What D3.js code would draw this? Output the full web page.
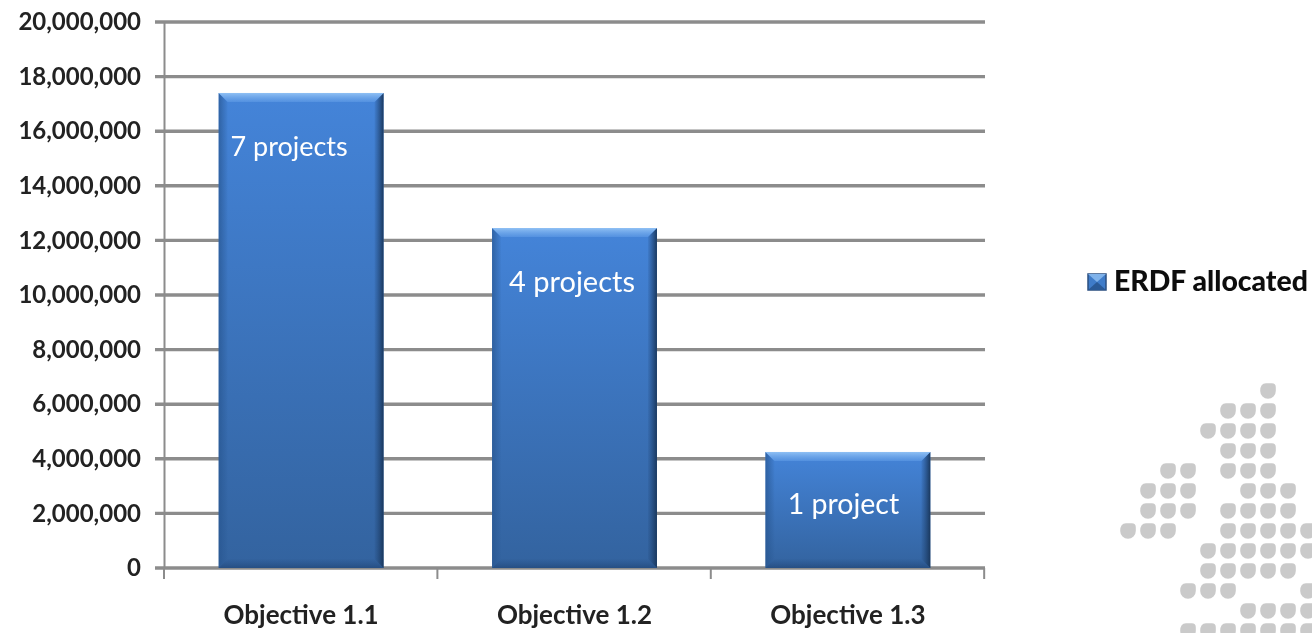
<!DOCTYPE html>
<html>
<head>
<meta charset="utf-8">
<script src="https://cdn.jsdelivr.net/npm/d3@7"></script>
<style>
  html, body { margin: 0; padding: 0; background: #fff; }
  svg { display: block; }
  text { font-family: Lato, sans-serif; }
</style>
</head>
<body>
<svg class="chart" width="1312" height="633"></svg>
<script>
// chart data
const categories = ['Objective 1.1', 'Objective 1.2', 'Objective 1.3'];
const erdfValues = [17400000, 12450000, 4250000];
const barLabels = ['7 projects', '4 projects', '1 project'];
const yTicks = d3.range(0, 20000001, 2000000);
const legendLabel = 'ERDF allocated';

// dotted map in the corner: each row lists its filled columns
const mapRows = [
  [7],
  [5, 6, 7],
  [4, 5, 6, 7],
  [5, 6, 7],
  [2, 3, 5, 6, 7],
  [1, 2, 3, 6, 7, 8],
  [1, 2, 3, 5, 6, 7, 8],
  [0, 1, 2, 5, 6, 7, 8, 9],
  [4, 5, 6, 7, 8, 9],
  [4, 5, 6, 7, 8],
  [3, 4, 5, 9],
  [6, 7, 8, 9],
  [3, 4, 5, 6, 7, 8, 9]
];

// the in-bar labels are not centred or equally sized in the original
const labelStyle = [
  { dx: -12, dy: 63, size: 27 },
  { dx: -2.5, dy: 64, size: 29 },
  { dx: -4.5, dy: 62, size: 28.5 }
];

const svg = d3.select('svg.chart');
const defs = svg.append('defs');

const soft = defs.append('filter').attr('id', 'soft');
soft.append('feGaussianBlur').attr('stdDeviation', 0.55);

function addGrad(id, dir, stops) {
  const g = defs.append('linearGradient')
    .attr('id', id)
    .attr('x1', 0).attr('y1', 0)
    .attr('x2', dir == 'h' ? 1 : 0)
    .attr('y2', dir == 'h' ? 0 : 1);
  stops.forEach(s => g.append('stop')
    .attr('offset', s[0])
    .attr('stop-color', s[1])
    .attr('stop-opacity', s[2]));
}
addGrad('barGrad', 'v', [['0%', '#4484d9', 1], ['100%', '#33639f', 1]]);
addGrad('topEdge', 'v', [['0%', '#8fc0f4', 1], ['100%', '#5f9be6', 0.6]]);
addGrad('rightEdge', 'h', [['0%', '#1f4270', 0.1], ['100%', '#183559', 0.95]]);
addGrad('bottomEdge', 'v', [['0%', '#234a80', 0.05], ['100%', '#1e4170', 0.6]]);
addGrad('leftEdge', 'h', [['0%', '#27558f', 0.7], ['100%', '#27558f', 0.05]]);

const x = d3.scaleBand()
  .domain(categories)
  .range([164, 985])
  .paddingInner(0.397)
  .paddingOuter(0.2);

const y = d3.scaleLinear()
  .domain([0, 20000000])
  .range([568, 22]);

// gridlines
svg.append('g').attr('class', 'grid')
  .selectAll('line')
  .data(yTicks)
  .enter()
  .append('line')
  .attr('x1', 155)
  .attr('x2', 985)
  .attr('y1', d => y(d))
  .attr('y2', d => y(d))
  .style('stroke', '#8c8c8c')
  .style('stroke-width', 3.4);

// axes
const yAxis = svg.append('g').attr('class', 'yAxis')
  .attr('transform', 'translate(164,0)')
  .call(d3.axisLeft(y).tickValues(yTicks).tickSize(0).tickPadding(23).tickFormat(d3.format(',')));
yAxis.select('.domain').style('stroke', '#8c8c8c').style('stroke-width', 2);
yAxis.selectAll('text')
  .style('font-size', '24px')
  .style('font-weight', 700)
  .style('fill', '#222')
  .attr('filter', 'url(#soft)');

const xAxis = svg.append('g').attr('class', 'xAxis')
  .attr('transform', 'translate(0,568)')
  .call(d3.axisBottom(x).tickSize(0).tickPadding(38));
xAxis.select('.domain').remove();
xAxis.selectAll('text')
  .style('font-size', '26px')
  .style('font-weight', 700)
  .style('fill', '#222')
  .attr('filter', 'url(#soft)');

// category separators below the baseline
const step = x.step();
svg.append('g').attr('class', 'xTicks')
  .selectAll('line')
  .data(d3.range(0, categories.length + 1))
  .enter()
  .append('line')
  .attr('x1', i => 164 + i * step)
  .attr('x2', i => 164 + i * step)
  .attr('y1', 568)
  .attr('y2', 579)
  .style('stroke', '#8c8c8c')
  .style('stroke-width', 2);

// bars with bevelled edges
const bevel = 9;
const barGrps = svg.selectAll('g.barGrp')
  .data(categories.map((c, i) => ({ cat: c, value: erdfValues[i], label: barLabels[i], style: labelStyle[i] })))
  .enter()
  .append('g')
  .attr('class', 'barGrp');

barGrps.append('rect')
  .attr('x', d => x(d.cat))
  .attr('y', d => y(d.value))
  .attr('width', x.bandwidth())
  .attr('height', d => y(0) - y(d.value))
  .style('fill', 'url(#barGrad)');

function bevelPath(d, side) {
  const l = x(d.cat), r = l + x.bandwidth(), t = y(d.value), b = y(0);
  const pts = {
    top: [[l, t], [r, t], [r - bevel, t + bevel], [l + bevel, t + bevel]],
    right: [[r, t], [r, b], [r - bevel, b - bevel], [r - bevel, t + bevel]],
    bottom: [[l, b], [r, b], [r - bevel, b - bevel], [l + bevel, b - bevel]],
    left: [[l, t], [l, b], [l + bevel, b - bevel], [l + bevel, t + bevel]]
  };
  return d3.line()(pts[side]) + 'Z';
}

['left', 'right', 'bottom', 'top'].forEach(side => {
  barGrps.append('path')
    .attr('d', d => bevelPath(d, side))
    .style('fill', `url(#${side}Edge)`);
});

barGrps.append('text')
  .attr('x', d => x(d.cat) + x.bandwidth() / 2 + d.style.dx)
  .attr('y', d => y(d.value) + d.style.dy)
  .text(d => d.label)
  .style('fill', '#fff')
  .style('font-size', d => `${d.style.size}px`)
  .style('text-anchor', 'middle')
  .attr('filter', 'url(#soft)');

// legend swatch is a small bevelled bar as well
const legend = svg.append('g').attr('class', 'legend');
legend.append('rect')
  .attr('x', 1088).attr('y', 274)
  .attr('width', 18).attr('height', 16)
  .style('fill', '#3f7cc9')
  .style('stroke', '#2b4f80')
  .style('stroke-width', 1.5);
legend.append('path')
  .attr('d', 'M1088,274 L1106,274 L1097,282 Z')
  .style('fill', '#7fb2ea');
legend.append('path')
  .attr('d', 'M1088,290 L1106,290 L1097,282 Z')
  .style('fill', '#2a5a97');
legend.append('text')
  .attr('x', 1114).attr('y', 291)
  .text(legendLabel)
  .style('font-size', '28.4px')
  .style('font-weight', 900)
  .style('fill', '#111')
  .attr('filter', 'url(#soft)');

// map dots, round except for the upper right corner
const mapX = d3.scaleLinear().domain([0, 9]).range([1128, 1308]);
const mapY = d3.scaleLinear().domain([0, 12]).range([391, 631]);
const dotR = 7.8;
const mapDots = mapRows.flatMap((cols, row) => cols.map(col => ({ row, col })));

svg.append('g').attr('class', 'mapDots')
  .attr('filter', 'url(#soft)')
  .selectAll('path')
  .data(mapDots)
  .enter()
  .append('path')
  .attr('transform', d => `translate(${mapX(d.col)},${mapY(d.row)})`)
  .attr('d', `M${-2},${-dotR} L${dotR - 4},${-dotR} Q${dotR},${-dotR} ${dotR},${-dotR + 4} L${dotR},0 A${dotR},${dotR} 0 1 1 ${-dotR},0 Q${-dotR},${-dotR} ${-2},${-dotR} Z`)
  .style('fill', '#cacaca');
</script>
</body>
</html>
